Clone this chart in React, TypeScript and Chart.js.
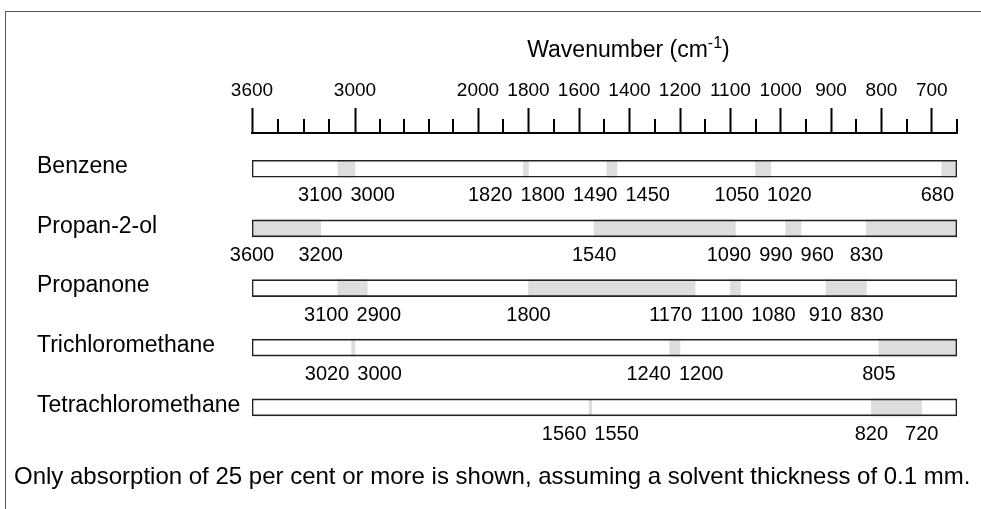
import React, { useEffect, useRef } from 'react';
import { Chart, LinearScale, registerables } from 'chart.js';

// Solvent rows, top to bottom
const solvents = ['Benzene', 'Propan-2-ol', 'Propanone', 'Trichloromethane', 'Tetrachloromethane'];

// Absorption bands [from, to] in cm-1 for each solvent
const benzeneBands = [[3100, 3000], [1820, 1800], [1490, 1450], [1050, 1020], [680, 650]];
const propan2olBands = [[3600, 3200], [1540, 1090], [990, 960], [830, 650]];
const propanoneBands = [[3100, 2900], [1800, 1170], [1100, 1080], [910, 830]];
const trichloromethaneBands = [[3020, 3000], [1240, 1200], [805, 650]];
const tetrachloromethaneBands = [[1560, 1550], [820, 720]];

const bandsBySolvent = [benzeneBands, propan2olBands, propanoneBands, trichloromethaneBands, tetrachloromethaneBands];

// Wavenumber axis
const axisStart = 3600;
const axisEnd = 650;
const majorTicks = [3600, 3000, 2000, 1800, 1600, 1400, 1200, 1100, 1000, 900, 800, 700];
const minorTicks = [3450, 3300, 3150, 2800, 2600, 2400, 2200, 1900, 1700, 1500, 1300, 1150, 1050, 950, 850, 750, 650];

// The axis is drawn in segments of different resolution: [wavenumber, length from the left end]
const axisSegments = [[3600, 0], [3000, 103], [2000, 226], [1200, 428], [650, 705]];
const totalLength = axisSegments[axisSegments.length - 1][1];

// Row index range shown on the vertical axis
const rowMin = -0.6;
const rowMax = 4.9;

const titleText = 'Wavenumber (cm';
const titleSup = '-1';
const titleClose = ')';
const footnote = 'Only absorption of 25 per cent or more is shown, assuming a solvent thickness of 0.1 mm.';

const FONT = '"Liberation Sans", Arial, Helvetica, sans-serif';

function toLength(v: number): number {
  const s = axisSegments;
  if (v >= s[0][0]) return s[0][1] + (s[0][0] - v) * (s[1][1] - s[0][1]) / (s[0][0] - s[1][0]);
  for (let i = 0; i < s.length - 1; i++) {
    const [w0, l0] = s[i];
    const [w1, l1] = s[i + 1];
    if (v <= w0 && v >= w1) return l0 + (w0 - v) * (l1 - l0) / (w0 - w1);
  }
  const n = s.length - 1;
  return s[n][1] + (s[n][0] - v) * (s[n][1] - s[n - 1][1]) / (s[n - 1][0] - s[n][0]);
}

function fromLength(l: number): number {
  const s = axisSegments;
  for (let i = 0; i < s.length - 1; i++) {
    const [w0, l0] = s[i];
    const [w1, l1] = s[i + 1];
    if (l >= l0 && l <= l1) return w0 - (l - l0) * (w0 - w1) / (l1 - l0);
  }
  return l < 0 ? s[0][0] : s[s.length - 1][0];
}

// Linear scale whose pixel mapping follows the segmented wavenumber axis
class SegmentedScale extends LinearScale {
  static id = 'segmented';
  static defaults = LinearScale.defaults;

  getPixelForValue(value: number) {
    if (value === null || value === undefined || isNaN(value)) return NaN;
    return this.getPixelForDecimal(toLength(value) / totalLength);
  }

  getValueForPixel(pixel: number) {
    return fromLength(this.getDecimalForPixel(pixel) * totalLength);
  }

  buildTicks() {
    return majorTicks.map((value) => ({ value }));
  }
}

Chart.register(...registerables, SegmentedScale as any);

type LabelItem = { text: string; w: number; target: number };

// Spread value labels along a row so that neighbours do not overlap
function spreadLabels(items: LabelItem[], gap: number, maxX: number): number[] {
  type Cluster = { idx: number[]; offs: number[]; c0: number };
  const place = (c: Cluster) => {
    let sum = 0;
    c.idx.forEach((k, j) => { sum += items[k].target - c.offs[j]; });
    c.c0 = sum / c.idx.length;
  };
  const clusters: Cluster[] = items.map((it, i) => ({ idx: [i], offs: [0], c0: it.target }));
  let merged = true;
  while (merged) {
    merged = false;
    for (let i = 0; i < clusters.length - 1; i++) {
      const a = clusters[i];
      const b = clusters[i + 1];
      const la = a.idx[a.idx.length - 1];
      const fb = b.idx[0];
      const rightA = a.c0 + a.offs[a.offs.length - 1] + items[la].w / 2;
      const leftB = b.c0 - items[fb].w / 2;
      if (rightA + gap > leftB) {
        const base = a.offs[a.offs.length - 1] + (items[la].w + items[fb].w) / 2 + gap;
        const c: Cluster = {
          idx: [...a.idx, ...b.idx],
          offs: [...a.offs, ...b.offs.map((o) => o + base)],
          c0: 0,
        };
        place(c);
        clusters.splice(i, 2, c);
        merged = true;
        break;
      }
    }
  }
  const centers: number[] = new Array(items.length);
  clusters.forEach((c) => {
    const last = c.idx[c.idx.length - 1];
    const overflow = c.c0 + c.offs[c.offs.length - 1] + items[last].w / 2 - maxX;
    const shift = overflow > 0 ? -overflow : 0;
    c.idx.forEach((k, j) => { centers[k] = c.c0 + c.offs[j] + shift; });
  });
  return centers;
}

const decorations = {
  id: 'decorations',
  afterDraw(chart: any) {
    const { ctx, chartArea, scales } = chart;
    const xs = scales.x;
    const ys = scales.y;
    ctx.save();

    // minor tick marks on the wavenumber axis
    ctx.strokeStyle = '#000';
    ctx.lineWidth = 2;
    minorTicks.forEach((v) => {
      const px = Math.round(xs.getPixelForValue(v));
      ctx.beginPath();
      ctx.moveTo(px, chartArea.top);
      ctx.lineTo(px, chartArea.top - 14);
      ctx.stroke();
    });

    // axis title with superscript
    ctx.fillStyle = '#000';
    ctx.textBaseline = 'alphabetic';
    ctx.textAlign = 'left';
    const mainFont = `23px ${FONT}`;
    const supFont = `16px ${FONT}`;
    ctx.font = mainFont;
    const w1 = ctx.measureText(titleText).width;
    const w3 = ctx.measureText(titleClose).width;
    ctx.font = supFont;
    const w2 = ctx.measureText(titleSup).width;
    const titleCenter = chartArea.left + (chartArea.right - chartArea.left) * 0.534;
    let tx = titleCenter - (w1 + w2 + w3) / 2;
    const ty = 57;
    ctx.font = mainFont;
    ctx.fillText(titleText, tx, ty);
    tx += w1;
    ctx.font = supFont;
    ctx.fillText(titleSup, tx, ty - 9);
    tx += w2;
    ctx.font = mainFont;
    ctx.fillText(titleClose, tx, ty);

    // band edge values under each row
    ctx.font = `20px ${FONT}`;
    ctx.textAlign = 'center';
    ctx.textBaseline = 'middle';
    bandsBySolvent.forEach((bands, row) => {
      const values = bands.flat().filter((v) => v !== axisEnd);
      const items: LabelItem[] = values
        .map((v) => ({ text: String(v), w: ctx.measureText(String(v)).width, target: xs.getPixelForValue(v) }))
        .sort((a, b) => a.target - b.target);
      const centers = spreadLabels(items, 8, chartArea.right - 3);
      const ly = ys.getPixelForValue(row) + 27;
      items.forEach((it, i) => ctx.fillText(it.text, centers[i], ly));
    });

    // footnote
    ctx.font = `24px ${FONT}`;
    ctx.textAlign = 'left';
    ctx.textBaseline = 'alphabetic';
    ctx.fillText(footnote, 14, 484);

    ctx.restore();
  },
};

export default function App() {
  const canvasRef = useRef<HTMLCanvasElement | null>(null);

  useEffect(() => {
    if (!canvasRef.current) return;
    Chart.defaults.font.family = FONT;
    Chart.defaults.color = '#000';

    const maxBands = Math.max(...bandsBySolvent.map((b) => b.length));
    const bandDatasets = Array.from({ length: maxBands }, (_, k) => ({
      label: `band ${k + 1}`,
      data: bandsBySolvent.flatMap((bands, row) => (bands[k] ? [{ x: bands[k], y: row }] : [])),
      backgroundColor: '#dddddd',
      borderWidth: 0,
      order: 1,
    }));
    const outline = {
      label: 'range',
      data: solvents.map((_, row) => ({ x: [axisStart, axisEnd], y: row })),
      backgroundColor: 'rgba(0,0,0,0)',
      borderColor: '#222222',
      borderWidth: 1,
      borderSkipped: false,
      order: 0,
    };

    const chart = new Chart(canvasRef.current, {
      type: 'bar',
      data: { datasets: [...bandDatasets, outline] as any },
      options: {
        indexAxis: 'y',
        responsive: false,
        animation: false,
        devicePixelRatio: 1,
        layout: { padding: { left: 37, right: 24, top: 77, bottom: 48 } },
        datasets: { bar: { grouped: false, barThickness: 17 } } as any,
        plugins: { legend: { display: false }, tooltip: { enabled: false } },
        scales: {
          x: {
            type: 'segmented' as any,
            position: 'top',
            min: axisEnd,
            max: axisStart,
            grid: { drawOnChartArea: false, drawTicks: true, tickLength: 25, tickWidth: 2, tickColor: '#000' },
            border: { display: true, width: 2, color: '#000' },
            ticks: {
              autoSkip: false,
              maxRotation: 0,
              padding: 6,
              color: '#000',
              font: { size: 19 },
              callback: (v: any) => String(v),
            },
            afterFit: (s: any) => { s.height = 56; },
          } as any,
          y: {
            type: 'linear',
            reverse: true,
            offset: false,
            min: rowMin,
            max: rowMax,
            grid: { display: false, offset: false },
            border: { display: false },
            afterBuildTicks: (s: any) => {
              s.ticks = solvents.map((_, i) => ({ value: i }));
              s.min = rowMin;
              s.max = rowMax;
            },
            ticks: {
              crossAlign: 'far',
              color: '#000',
              font: { size: 23 },
              labelOffset: -2,
              callback: (v: any) => solvents[v] ?? '',
            },
            afterFit: (s: any) => { s.width = 215; },
          } as any,
        },
      },
      plugins: [decorations],
    });
    return () => chart.destroy();
  }, []);

  return (
    <div style={{ position: 'absolute', left: 0, top: 0, width: 981, height: 509, background: '#fff', overflow: 'hidden' }}>
      <canvas ref={canvasRef} width={981} height={509} style={{ position: 'absolute', left: 0, top: 0 }} />
      <div
        style={{
          position: 'absolute', left: 5, top: 11, width: 976, height: 498,
          borderTop: '1px solid #555', borderLeft: '1px solid #555',
          boxSizing: 'border-box', pointerEvents: 'none',
        }}
      />
    </div>
  );
}
